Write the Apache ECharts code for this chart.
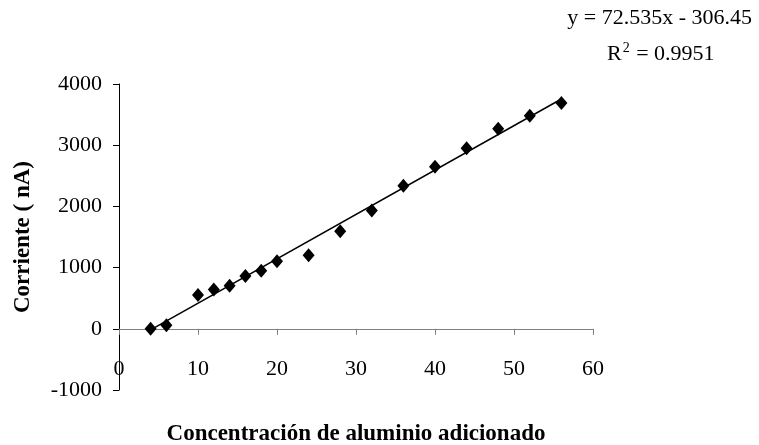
<!DOCTYPE html>
<html>
<head>
<meta charset="utf-8">
<script src="https://cdn.jsdelivr.net/npm/echarts@6/dist/echarts.min.js"></script>
<style>html,body{margin:0;padding:0;background:#fff}#c{width:759px;height:445px}</style>
</head>
<body>
<div id="c"></div>
<script>
var concentracion = [4, 6, 10, 12, 14, 16, 18, 20, 24, 28, 32, 36, 40, 44, 48, 52, 56];
var corriente = [0, 60, 551, 644, 704, 862, 950, 1102, 1200, 1593, 1932, 2336, 2647, 2952, 3269, 3482, 3689];
var trendX = [4, 56];
var trendY = [-16, 3755];
var xTicks = [0, 10, 20, 30, 40, 50, 60];
var yTicks = [-1000, 0, 1000, 2000, 3000, 4000];
var equationText = 'y = 72.535x - 306.45';
var r2Text = '0.9951';

var FONT = '"Liberation Serif", "Times New Roman", serif';
var pts = concentracion.map(function (x, i) { return [x, corriente[i]]; });
var trend = trendX.map(function (x, i) { return [x, trendY[i]]; });

var chart = echarts.init(document.getElementById('c'), null, { renderer: 'canvas' });
chart.setOption({
  animation: false,
  backgroundColor: '#ffffff',
  grid: { left: 119, right: 166, top: 84, bottom: 55, containLabel: false, outerBoundsMode: 'none' },
  xAxis: {
    type: 'value',
    min: xTicks[0], max: xTicks[xTicks.length - 1], interval: 10,
    name: 'Concentración de aluminio adicionado',
    nameLocation: 'middle', nameGap: 33,
    nameTextStyle: { fontFamily: FONT, fontWeight: 'bold', fontSize: 23, color: '#000' },
    axisLine: { onZero: true, lineStyle: { color: '#808080', width: 1 } },
    axisTick: { show: true, inside: false, length: 6, lineStyle: { color: '#808080' } },
    axisLabel: { margin: -32, fontFamily: FONT, fontSize: 22, color: '#000',
      formatter: function (v) { return String(v); } },
    splitLine: { show: false }
  },
  yAxis: {
    type: 'value',
    min: yTicks[0], max: yTicks[yTicks.length - 1], interval: 1000,
    name: 'Corriente ( nA)',
    nameLocation: 'middle', nameGap: 84, nameRotate: 90,
    nameTextStyle: { fontFamily: FONT, fontWeight: 'bold', fontSize: 23, color: '#000' },
    axisLine: { onZero: false, lineStyle: { color: '#000', width: 1 } },
    axisTick: { show: true, inside: false, length: 6, lineStyle: { color: '#000' } },
    axisLabel: { margin: 17, fontFamily: FONT, fontSize: 22, color: '#000',
      formatter: function (v) { return String(v); } },
    splitLine: { show: false }
  },
  graphic: [
    { type: 'text', right: 7, top: 7, style: { text: equationText, font: '22px ' + FONT, fill: '#000' } },
    { type: 'text', left: 607, top: 41, style: {
      text: '{s|R}{t|2}{s| = ' + r2Text + '}',
      rich: {
        s: { fontFamily: FONT, fontSize: 22, color: '#000', verticalAlign: 'bottom' },
        t: { fontFamily: FONT, fontSize: 14, color: '#000', verticalAlign: 'top', padding: [0, 1, 10, 1] }
      }
    } }
  ],
  series: [
    {
      type: 'line', data: trend, symbol: 'none', silent: true,
      lineStyle: { color: '#000', width: 1.5 }, z: 1
    },
    {
      type: 'scatter', data: pts, symbol: 'diamond', symbolSize: [12, 14],
      itemStyle: { color: '#000', opacity: 1 }, z: 2
    }
  ]
});
</script>
</body>
</html>
